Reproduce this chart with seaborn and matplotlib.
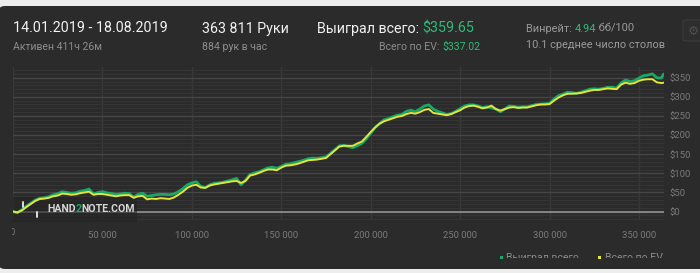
import numpy as np
import pandas as pd
import matplotlib
matplotlib.use("Agg")
import matplotlib.pyplot as plt
import seaborn as sns
from matplotlib.patches import FancyBboxPatch, Rectangle

# ---------------- data ----------------
hands = list(range(0, 362501, 2500)) + [363811]
won = [0, -3, 5, 14, 22, 30, 35, 36, 39, 44,
       47, 52, 50, 48, 49, 53, 55, 59, 46, 50,
       52, 49, 47, 45, 46, 48, 47, 38, 45, 48,
       40, 42, 44, 45, 45, 44, 46, 52, 60, 70,
       75, 78, 66, 63, 70, 74, 75, 77, 80, 83,
       87, 70, 82, 97, 101, 104, 109, 114, 116, 113,
       118, 124, 125, 128, 131, 134, 138, 140, 139, 141,
       143, 152, 162, 172, 173, 170, 167, 172, 178, 190,
       205, 220, 230, 240, 243, 248, 252, 254, 262, 265,
       261, 268, 276, 279, 268, 262, 258, 254, 256, 262,
       269, 276, 279, 279, 276, 272, 274, 271, 268, 261,
       268, 276, 275, 273, 274, 274, 277, 280, 281, 282,
       283, 294, 303, 307, 312, 311, 309, 312, 316, 320,
       321, 320, 322, 325, 325, 323, 336, 344, 340, 342,
       349, 355, 357, 360, 350, 349, 359.65]
ev = [0, -2, 3, 12, 20, 28, 33, 34, 36, 40,
      42, 47, 46, 44, 45, 48, 50, 52, 44, 46,
      46, 44, 42, 40, 42, 43, 43, 36, 40, 41,
      32, 34, 33, 35, 34, 33, 37, 44, 52, 62,
      68, 70, 63, 62, 68, 71, 73, 75, 77, 79,
      80, 75, 80, 94, 97, 101, 106, 110, 110, 108,
      115, 120, 121, 123, 126, 130, 134, 135, 136, 138,
      140, 150, 160, 170, 172, 172, 172, 178, 183, 195,
      208, 220, 230, 236, 240, 244, 248, 250, 255, 258,
      256, 260, 266, 268, 258, 256, 254, 252, 255, 260,
      265, 272, 276, 277, 274, 270, 272, 277, 268, 264,
      268, 272, 273, 271, 272, 272, 275, 278, 280, 280,
      281, 290, 298, 304, 308, 308, 309, 310, 313, 316,
      318, 318, 320, 322, 321, 320, 332, 337, 334, 336,
      342, 345, 346, 346, 338, 336, 337.02]
series_names = ["Выиграл всего", "Всего по EV"]
x_ticks = [0, 50000, 100000, 150000, 200000, 250000, 300000, 350000]
x_tick_labels = ["0", "50 000", "100 000", "150 000", "200 000", "250 000", "300 000", "350 000"]
y_ticks = [0, 50, 100, 150, 200, 250, 300, 350]
y_tick_labels = ["$0", "$50", "$100", "$150", "$200", "$250", "$300", "$350"]

# ---------------- style ----------------
sns.set_style("dark")
FONT = ["Roboto", "DejaVu Sans"]
plt.rcParams["font.family"] = FONT

W, H = 700, 273
BG = "#2b2b2b"
GREEN = "#1aa866"
YELLOW = "#e4e43a"
GREEN_TXT = "#2bbd78"
GREY = "#8c8c8c"
WHITE = "#f2f2f2"

fig = plt.figure(figsize=(W / 100, H / 100), dpi=100)
fig.patch.set_facecolor("#ededed")

def fx(x):
    return x / W

def fy(y):
    return 1 - y / H

panel = FancyBboxPatch((fx(0), fy(269)), 1.05, (269 - 6) / H,
                       boxstyle="round,pad=0,rounding_size=0.008",
                       transform=fig.transFigure, fc=BG, ec="none", zorder=-5)
fig.patches.append(panel)

# ---------------- axes ----------------
ax = fig.add_axes([fx(13), fy(220), (664 - 13) / W, (220 - 67) / H])
ax.set_facecolor(BG)
ax.set_zorder(1)

df = pd.DataFrame({
    "hands": hands * 2,
    "value": won + ev,
    "series": [series_names[0]] * len(hands) + [series_names[1]] * len(hands),
})
sns.lineplot(data=df[df.series == series_names[0]], x="hands", y="value",
             color=GREEN, lw=2.0, ax=ax, legend=False, zorder=4)
sns.lineplot(data=df[df.series == series_names[1]], x="hands", y="value",
             color=YELLOW, lw=1.4, ax=ax, legend=False, zorder=5)

ax.set_xlim(0, 364000)
ax.set_ylim(-22, 378)
ax.set_xlabel("")
ax.set_ylabel("")
for s in ax.spines.values():
    s.set_visible(False)

ax.set_xticks(x_ticks)
ax.set_xticklabels([""] + x_tick_labels[1:])
ax.set_yticks(y_ticks)
ax.set_yticklabels(y_tick_labels)
ax.set_yticks(np.arange(-20, 378, 10), minor=True)
ax.yaxis.tick_right()
ax.tick_params(axis="both", which="both", length=0, colors="#7a7a7a", labelsize=6.8)
ax.tick_params(axis="x", pad=8)
ax.tick_params(axis="y", pad=4)
ax.grid(False)
ax.grid(True, which="major", axis="y", color="#464646", lw=1.0, zorder=1)
ax.grid(True, which="minor", axis="y", color="#343434", lw=0.8, zorder=1)
ax.grid(True, which="major", axis="x", color="#3a3a3a", lw=1.0, zorder=1)
ax.set_axisbelow(True)
ax.axhline(0, color="#8a8a8a", lw=1.3, zorder=2)

# watermark backdrop (under the lines)
wm = Rectangle((fx(13), fy(222)), (137 - 13) / W, (222 - 197) / H,
               transform=fig.transFigure, fc="#232323", ec="none", alpha=0.6,
               zorder=3, clip_on=False)
ax.add_artist(wm)

# "0" tick label, clipped at the left edge
t0 = fig.text(fx(12.5), fy(232.7), x_tick_labels[0], color="#7a7a7a", fontsize=6.8,
              ha="center", va="center")
t0.set_clip_path(Rectangle((fx(12), 0), 1, 1, transform=fig.transFigure))

renderer = fig.canvas.get_renderer()

def seq(x, y, parts, size, weight="normal", zorder=7):
    cur = x
    for s, c in parts:
        t = fig.text(fx(cur), fy(y), s, color=c, fontsize=size, fontweight=weight,
                     ha="left", va="center", zorder=zorder)
        bb = t.get_window_extent(renderer)
        cur = bb.x1
    return cur

seq(47, 209.5, [("HAND", "#d6d6d6"), ("2", GREEN), ("NOTE.COM", "#d6d6d6")], 7.6, weight="bold")
fig.lines.append(plt.Line2D([fx(23.3), fx(23.3)], [fy(201.5), fy(206.5)], transform=fig.transFigure,
                            color="#e0e0e0", lw=1.4, zorder=8))
fig.lines.append(plt.Line2D([fx(37.3), fx(37.3)], [fy(211.5), fy(216.5)], transform=fig.transFigure,
                            color="#e0e0e0", lw=1.4, zorder=8))

# ---------------- header ----------------
fig.text(fx(13), fy(28.5), "14.01.2019 - 18.08.2019", color=WHITE, fontsize=10.3, va="center")
fig.text(fx(13), fy(47), "Активен 411ч 26м", color=GREY, fontsize=7.6, va="center")
fig.text(fx(201.5), fy(28.5), "363 811 Руки", color=WHITE, fontsize=10.3, va="center")
fig.text(fx(201.5), fy(47), "884 рук в час", color=GREY, fontsize=7.6, va="center")

seq(317, 28.5, [("Выиграл всего: ", WHITE), ("$359.65", GREEN_TXT)], 10.3)

tv = fig.text(fx(480), fy(47), "$337.02", color=GREEN_TXT, fontsize=7.6, ha="right", va="center")
bbv = tv.get_window_extent(renderer)
fig.text(bbv.x0 / W, fy(47), "Всего по EV: ", color=GREY, fontsize=7.6, ha="right", va="center")

seq(526, 28.5, [("Винрейт: ", "#9a9a9a"), ("4.94", GREEN_TXT), (" бб/100", "#9a9a9a")], 7.9)
fig.text(fx(526), fy(45.5), "10.1 среднее число столов", color="#9a9a9a", fontsize=7.9, va="center")

# gear button
gear = FancyBboxPatch((fx(683), fy(41)), 30 / W, 21 / H,
                      boxstyle="round,pad=0,rounding_size=0.004",
                      transform=fig.transFigure, fc="#2e2e2e", ec="#3c3c3c", lw=0.8, zorder=3)
fig.patches.append(gear)
fig.text(fx(693), fy(31), "\u2699", color="#4e4e4e", fontsize=9, ha="center", va="center",
         family=["DejaVu Sans"])

# ---------------- legend (clipped) ----------------
clip = Rectangle((0, fy(257.5)), 1, 1, transform=fig.transFigure)
for mx, tx, name, col in [(501.7, 506.5, series_names[0], GREEN), (599, 605, series_names[1], YELLOW)]:
    m = Rectangle((fx(mx - 1.5), fy(258.5)), 3 / W, 3 / H, transform=fig.transFigure,
                  fc=col, ec="none", zorder=5)
    fig.patches.append(m)
    t = fig.text(fx(tx), fy(258), name, color="#8a8a8a", fontsize=7.6, ha="left", va="center")
    t.set_clip_path(clip)

fig.savefig("out.png", dpi=100, facecolor=fig.get_facecolor())
